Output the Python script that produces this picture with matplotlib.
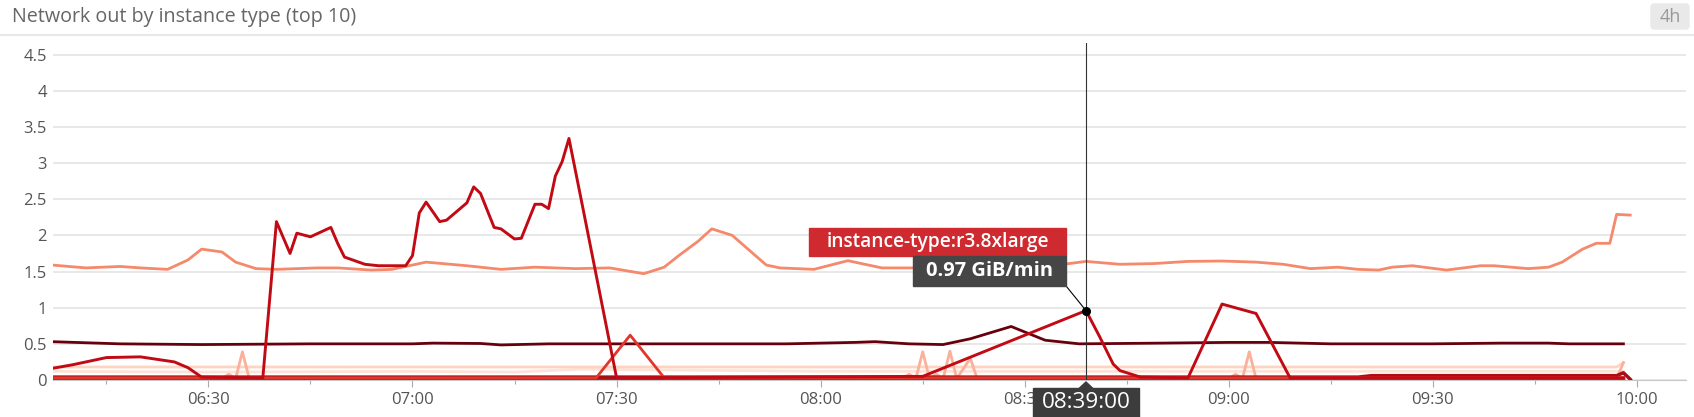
import numpy as np
import pandas as pd
import matplotlib
matplotlib.use('Agg')
import matplotlib.pyplot as plt
import matplotlib.dates as mdates
from matplotlib.patches import Rectangle, Polygon, FancyBboxPatch
from matplotlib.lines import Line2D
from matplotlib.transforms import IdentityTransform

plt.rcParams['font.family'] = ['Open Sans', 'DejaVu Sans']

DAY = '2017-06-01 '
def tm(lst): return pd.to_datetime([DAY + s for s in lst])

title = "Network out by instance type (top 10)"
hover_label = "instance-type:r3.8xlarge"
hover_value = "0.97 GiB/min"
hover_time = "08:39"
hover_v = 0.96

# salmon ~1.55
salmon_t = ['06:07','06:12','06:17','06:20','06:24','06:27','06:29','06:32','06:34','06:37','06:40','06:46','06:49',
            '06:54','06:57','07:02','07:08','07:13','07:18','07:24','07:29','07:34','07:37','07:39','07:42','07:44',
            '07:47','07:52','07:54','07:59','08:04','08:09','08:14','08:19','08:24','08:29','08:34','08:39','08:44',
            '08:49','08:54','08:59','09:04','09:08','09:12','09:16','09:19','09:22','09:24','09:27','09:32','09:37',
            '09:39','09:44','09:47','09:49','09:52','09:54','09:56','09:57','09:59']
salmon_v = [1.59,1.55,1.57,1.55,1.53,1.66,1.81,1.77,1.63,1.54,1.53,1.55,1.55,
            1.52,1.53,1.63,1.58,1.53,1.56,1.54,1.55,1.47,1.56,1.71,1.92,2.09,
            2.00,1.59,1.55,1.53,1.65,1.55,1.55,1.60,1.58,1.60,1.58,1.64,1.60,
            1.61,1.64,1.645,1.63,1.60,1.54,1.56,1.53,1.52,1.56,1.58,1.52,1.58,
            1.58,1.54,1.56,1.63,1.81,1.89,1.89,2.29,2.28]

# maroon ~0.5
maroon_t = ['06:07','06:17','06:29','06:45','07:00','07:03','07:10','07:13','07:20','07:40','07:55','08:05','08:08',
            '08:13','08:18','08:22','08:28','08:33','08:38','08:50','09:00','09:06','09:15','09:30','09:40','09:47',
            '09:50','09:58']
maroon_v = [0.53,0.50,0.49,0.50,0.50,0.51,0.505,0.485,0.50,0.50,0.50,0.52,0.53,
            0.50,0.49,0.57,0.74,0.55,0.50,0.51,0.52,0.52,0.50,0.50,0.51,0.51,
            0.50,0.50]

# r3.8xlarge (hovered series)
r3_t = ['06:07','06:10','06:15','06:20','06:25','06:27','06:29','06:38','06:40','06:42','06:43','06:45','06:48',
        '06:49','06:50','06:53','06:55','06:59','07:00','07:01','07:02','07:04','07:05','07:08','07:09','07:10',
        '07:12','07:13','07:15','07:16','07:18','07:19','07:20','07:21','07:22','07:23','07:25','07:30','08:15',
        '08:39','08:41','08:43','08:44','08:47','08:54','08:59','09:04','09:09','09:58']
r3_v = [0.16,0.21,0.31,0.32,0.25,0.17,0.04,0.03,2.19,1.75,2.03,1.98,2.11,
        1.89,1.70,1.60,1.58,1.58,1.72,2.31,2.46,2.19,2.21,2.45,2.67,2.58,
        2.11,2.09,1.95,1.96,2.43,2.43,2.37,2.82,3.02,3.34,2.40,0.03,0.05,
        0.96,0.60,0.22,0.13,0.04,0.03,1.05,0.92,0.03,0.03]

# lighter red, triangle around 07:32
tri_t = ['06:07','07:27','07:32','07:37','09:58']
tri_v = [0.03,0.03,0.62,0.03,0.03]

# peach spikes
peach_t = ['06:07','06:32','06:33','06:34','06:35','06:36','08:12','08:13','08:14','08:15','08:16','08:17','08:18',
           '08:19','08:20','08:22','08:23','09:00','09:01','09:02','09:03','09:04','09:57','09:58']
peach_v = [0.02,0.02,0.08,0.02,0.39,0.02,0.02,0.08,0.02,0.39,0.02,0.08,0.02,
           0.40,0.02,0.30,0.02,0.02,0.08,0.02,0.39,0.02,0.02,0.24]

# pale pinks
pink1_t = ['06:07','07:00','08:00','09:00','09:57','09:58']
pink1_v = [0.18,0.18,0.18,0.18,0.18,0.24]
pink2_t = ['06:07','06:30','07:00','07:15','07:25','07:35','08:00','08:30','09:00','09:30','09:58']
pink2_v = [0.12,0.11,0.12,0.11,0.15,0.14,0.12,0.12,0.12,0.12,0.12]

# base lines near zero
base1_t = ['06:07','09:19','09:21','09:57','09:58','09:59']
base1_v = [0.04,0.04,0.06,0.06,0.10,0.01]
base2_t = ['06:07','09:58']
base2_v = [0.025,0.025]
base3_t = ['06:07','09:58']
base3_v = [0.01,0.01]

series = [
    (pink2_t, pink2_v, '#fee2d6', 2.0),
    (pink1_t, pink1_v, '#fdd3c1', 2.0),
    (salmon_t, salmon_v, '#f4896b', 2.0),
    (maroon_t, maroon_v, '#67000d', 2.0),
    (peach_t, peach_v, '#fbb09a', 2.0),
    (base3_t, base3_v, '#ef3b2c', 2.5),
    (base2_t, base2_v, '#cb181d', 2.5),
    (base1_t, base1_v, '#a50f15', 2.5),
    (tri_t, tri_v, '#e2362c', 2.0),
    (r3_t, r3_v, '#c10a14', 2.1),
]

W, H = 1694, 417
fig = plt.figure(figsize=(W / 100, H / 100), dpi=100)
ax = fig.add_axes([53.3 / W, 37 / H, (1686 - 53.3) / W, 337 / H])

for t, v, c, lw in series:
    ax.plot(tm(t), v, color=c, lw=lw, zorder=3)

ax.set_xlim(pd.Timestamp(DAY + '06:07:12'), pd.Timestamp(DAY + '10:07:12'))
ax.set_ylim(0, 4.66)
ax.set_yticks(np.arange(0, 4.51, 0.5))
ax.yaxis.set_major_formatter(plt.FuncFormatter(lambda v, p: '{:g}'.format(v)))
ax.yaxis.grid(True, color='#e6e6e6', lw=1.3)
ax.set_axisbelow(True)
for s in ['top', 'left', 'right']:
    ax.spines[s].set_visible(False)
ax.spines['bottom'].set_color('#c8c8c8')

ax.xaxis.set_major_locator(mdates.MinuteLocator(byminute=[0, 30]))
ax.xaxis.set_minor_locator(mdates.MinuteLocator(byminute=[15, 45]))
ax.xaxis.set_major_formatter(mdates.DateFormatter('%H:%M'))
ax.tick_params(axis='y', length=0, pad=4.7, labelsize=12, labelcolor='#555555')
ax.tick_params(axis='x', which='major', length=4.8, width=0.8, color='#aaaaaa', pad=3.5,
               labelsize=12, labelcolor='#555555')
ax.tick_params(axis='x', which='minor', length=2.9, width=0.8, color='#aaaaaa')

# hover crosshair and point
th = pd.Timestamp(DAY + hover_time)
ax.axvline(th, color='#333333', lw=0.8, zorder=5)
ax.plot([th], [hover_v], 'o', color='black', ms=5.5, zorder=6)

dx, dy = ax.transData.transform((mdates.date2num(th), hover_v))
ident = IdentityTransform()
fig.add_artist(Rectangle((dx - 276.7, dy + 54.7), 256.7, 28.3, transform=ident, color='#cf2a2f', zorder=10))
fig.text(dx - 148.3, dy + 68.5, hover_label, transform=ident, ha='center', va='center',
         color='white', fontsize=13.8, fontweight='semibold', zorder=11)
fig.add_artist(Rectangle((dx - 172.7, dy + 24.7), 152.7, 30, transform=ident, color='#464646', zorder=10))
fig.text(dx - 96.3, dy + 39.2, hover_value, transform=ident, ha='center', va='center',
         color='white', fontsize=14.5, fontweight='bold', zorder=11)
fig.add_artist(Line2D([dx - 20, dx], [dy + 24.7, dy], transform=ident, color='black', lw=0.8, zorder=9))

fig.add_artist(Rectangle((dx - 53, -3), 106, 32, transform=ident, color='#3c3c3c', zorder=10))
fig.add_artist(Polygon([(dx - 7, 28.5), (dx + 7, 28.5), (dx, 35)], closed=True, transform=ident,
                       color='#3c3c3c', zorder=10))
fig.text(dx, 14, hover_time + ':00', transform=ident, ha='center', va='center',
         color='white', fontsize=16.2, fontweight='medium', zorder=11)

# header
fig.text(12 / W, 1 - 17 / H, title, fontsize=14.2, color='#666666', va='center')
fig.add_artist(Line2D([0, 1], [1 - 35 / H] * 2, transform=fig.transFigure, color='#e8e8e8', lw=1.5))
fig.add_artist(FancyBboxPatch((1651, 388), 38, 25, boxstyle='round,pad=0,rounding_size=3',
                              transform=ident, color='#e9e9e9'))
fig.text(1670, 400, '4h', transform=ident, ha='center', va='center', fontsize=13, color='#999999')

fig.savefig('out.png', dpi=100, facecolor='white')
